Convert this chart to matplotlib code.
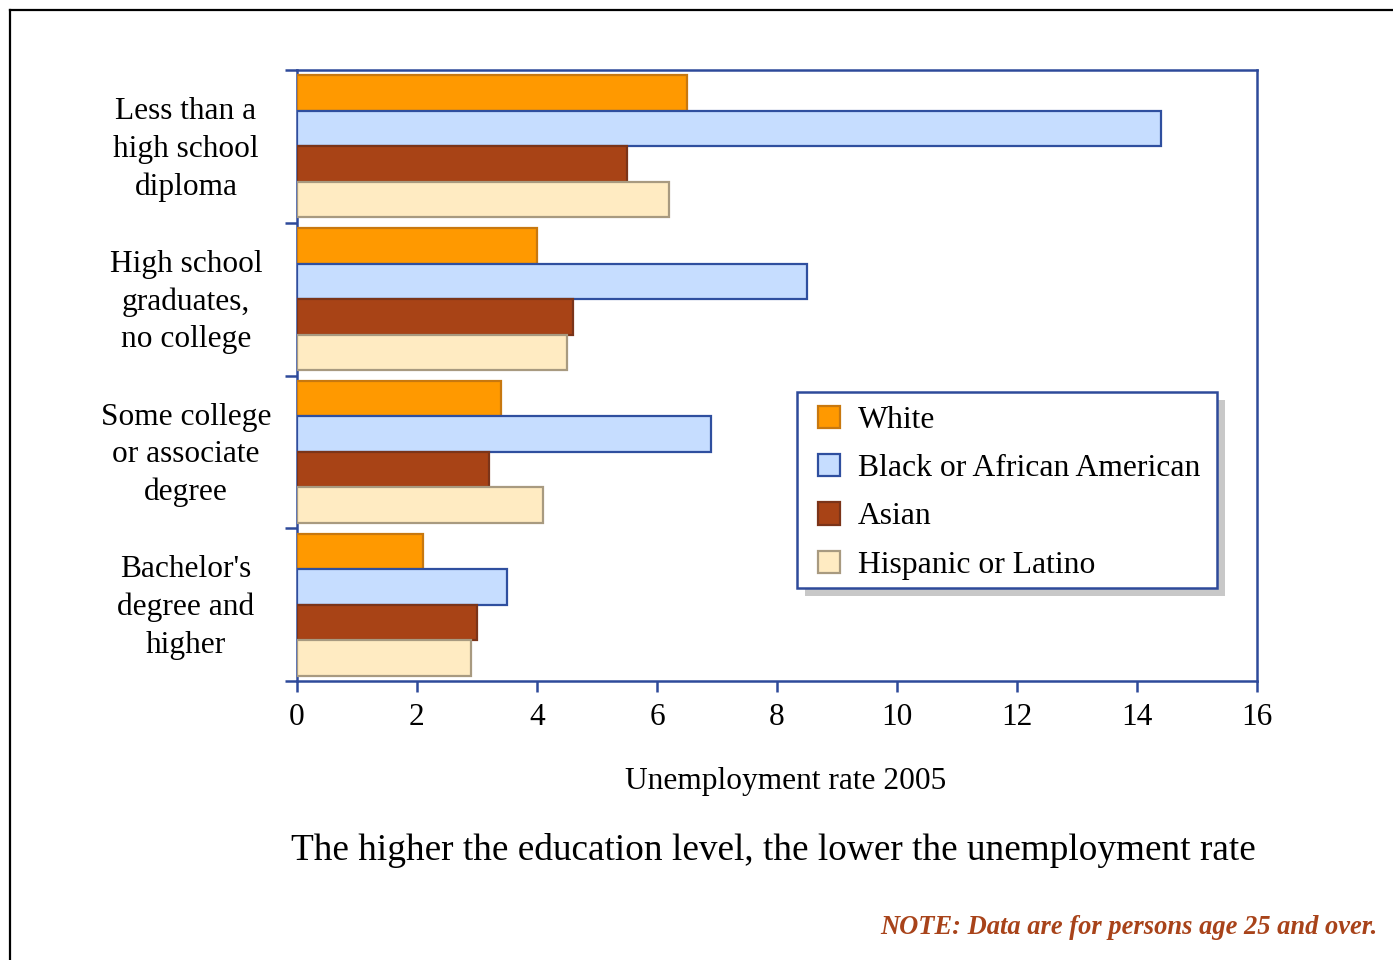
import matplotlib
matplotlib.use("Agg")
import matplotlib.pyplot as plt
from matplotlib.patches import Rectangle
from matplotlib.lines import Line2D
from matplotlib.transforms import IdentityTransform, blended_transform_factory, offset_copy
import numpy as np

plt.rcParams['font.family'] = ['Liberation Serif', 'DejaVu Serif']

categories = ["Less than a\nhigh school\ndiploma",
              "High school\ngraduates,\nno college",
              "Some college\nor associate\ndegree",
              "Bachelor's\ndegree and\nhigher"]
series_names = ["White", "Black or African American", "Asian", "Hispanic or Latino"]
white = [6.5, 4.0, 3.4, 2.1]
black = [14.4, 8.5, 6.9, 3.5]
asian = [5.5, 4.6, 3.2, 3.0]
hispanic = [6.2, 4.5, 4.1, 2.9]
xticks = [0, 2, 4, 6, 8, 10, 12, 14, 16]

faces = ["#FF9900", "#C6DDFF", "#A84316", "#FFEBC2"]
edges = ["#C8780F", "#2F4F9F", "#7B3419", "#A89A80"]
navy = "#2E4A9A"

W, H = 1393, 960
fig = plt.figure(figsize=(W / 100, H / 100), dpi=100)
ax = fig.add_axes([297 / W, 1 - 681 / H, 960 / W, 611 / H])

values = [white, black, asian, hispanic]
h = 0.232
idx = np.arange(len(categories))
for j, (vals, name) in enumerate(zip(values, series_names)):
    ax.barh(idx + 0.5 + (j - 1.5) * h, vals, height=h, color=faces[j],
            edgecolor=edges[j], linewidth=1.6, label=name, zorder=3)

ax.set_xlim(0, 16)
ax.set_ylim(len(categories), 0)
ax.set_xticks(xticks)
ax.set_xticklabels([str(t) for t in xticks])
ax.set_yticks(np.arange(len(categories) + 1))
ax.set_yticklabels([])
for s in ax.spines.values():
    s.set_color(navy)
    s.set_linewidth(1.8)
ax.tick_params(axis='x', direction='out', length=8, width=1.8, color=navy,
               labelsize=22.6, pad=8)
ax.tick_params(axis='y', direction='out', length=8.6, width=1.8, color=navy)

trans = offset_copy(blended_transform_factory(ax.transAxes, ax.transData),
                    fig=fig, y=-3, units='dots')
for i, c in enumerate(categories):
    ax.text((186 - 297) / 960, i + 0.5, c, transform=trans, ha='center',
            va='center', multialignment='center', fontsize=22.6, linespacing=1.38)

leg = ax.legend(loc='upper left', bbox_to_anchor=((818 - 297) / 960, 1 - (406 - 70) / 611),
                fontsize=22.8, frameon=False, handlelength=0.7, handleheight=0.7,
                handletextpad=0.55, labelspacing=0.6, borderpad=0,
                borderaxespad=0)
leg.set_zorder(7)

fig.text(785.5 / W, 1 - 781 / H, "Unemployment rate 2005", ha='center', va='center',
         fontsize=22.6)
fig.text(773.5 / W, 1 - 851 / H,
         "The higher the education level, the lower the unemployment rate",
         ha='center', va='center', fontsize=26.8)
fig.text(1378 / W, 1 - 928 / H, "NOTE: Data are for persons age 25 and over.",
         ha='right', va='center', fontsize=19.1, fontweight='bold', fontstyle='italic',
         color="#A8431A")

# outer frame (left and top edges)
fig.add_artist(Line2D([10 / W, 10 / W], [0, 1 - 10 / H], transform=fig.transFigure,
                      color='black', linewidth=1.6))
fig.add_artist(Line2D([10 / W, 1], [1 - 10 / H, 1 - 10 / H], transform=fig.transFigure,
                      color='black', linewidth=1.6))

# legend frame and shadow around the legend contents
fig.canvas.draw()
bb = leg.get_window_extent()
fx0, fx1 = bb.x0 - 21, bb.x1 + 17
fy0, fy1 = bb.y0 - 8, bb.y1 + 14
ax.add_artist(Rectangle((fx0 + 8, fy0 - 8), fx1 - fx0, fy1 - fy0, transform=IdentityTransform(),
                        facecolor="#C8C8C8", edgecolor='none', zorder=5, clip_on=False))
ax.add_artist(Rectangle((fx0, fy0), fx1 - fx0, fy1 - fy0, transform=IdentityTransform(),
                        facecolor="white", edgecolor=navy, linewidth=1.8, zorder=6,
                        clip_on=False))

fig.savefig("out.png", dpi=100)
